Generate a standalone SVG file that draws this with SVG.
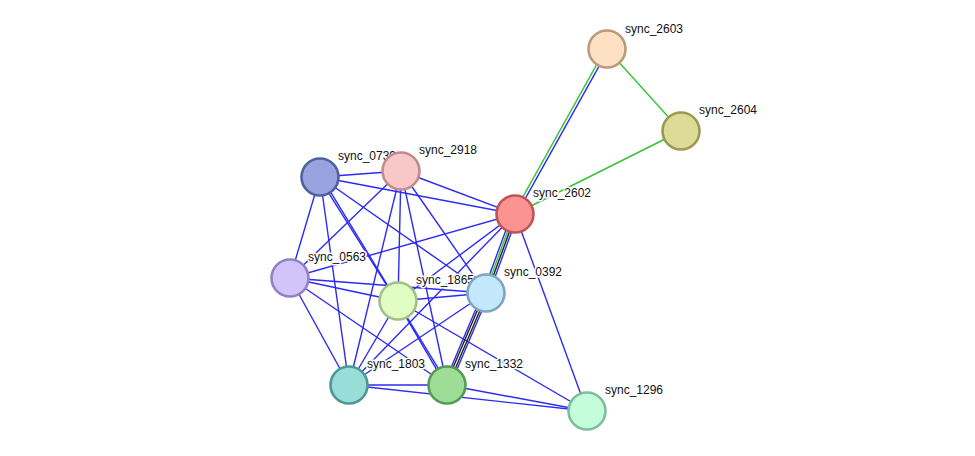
<svg xmlns="http://www.w3.org/2000/svg" width="975" height="456" viewBox="0 0 975 456">
<style>
.e{stroke:#2b2bf5;stroke-width:1.4;fill:none}
.g{stroke:#35c435;stroke-width:1.4;fill:none}
.k{stroke:#222;stroke-width:1.4;fill:none}
.n circle{stroke-width:2.6}
.n text{font-family:"Liberation Sans",Arial,sans-serif;font-size:12px;fill:#111;stroke:#fff;stroke-width:3;stroke-linejoin:round;paint-order:stroke}
</style>
<rect width="975" height="456" fill="#fff"/>
<g id="connectors">
<line class="e" x1="320" y1="177" x2="401" y2="171"/>
<line class="e" x1="320" y1="177" x2="515" y2="214"/>
<line class="e" x1="320" y1="177" x2="290" y2="278"/>
<line class="e" x1="319" y1="177.6" x2="397" y2="301.6"/>
<line class="e" x1="321" y1="176.4" x2="448" y2="384.4"/>
<line class="e" x1="320" y1="177" x2="486" y2="293"/>
<line class="e" x1="320" y1="177" x2="349" y2="385"/>
<line class="e" x1="401" y1="171" x2="515" y2="214"/>
<line class="e" x1="401" y1="171" x2="290" y2="278"/>
<line class="e" x1="401" y1="171" x2="398" y2="301"/>
<line class="e" x1="401" y1="171" x2="349" y2="385"/>
<line class="e" x1="401" y1="171" x2="447" y2="385"/>
<line class="e" x1="401" y1="171" x2="486" y2="293"/>
<line class="e" x1="515" y1="214" x2="290" y2="278"/>
<line class="e" x1="515" y1="214" x2="398" y2="301"/>
<line class="e" x1="515" y1="214" x2="349" y2="385"/>
<line class="e" x1="515" y1="214" x2="587" y2="411"/>
<line class="e" x1="290" y1="278" x2="398" y2="301"/>
<line class="e" x1="290" y1="278" x2="486" y2="293"/>
<line class="e" x1="290" y1="278" x2="349" y2="385"/>
<line class="e" x1="290" y1="278" x2="447" y2="385"/>
<line class="e" x1="398" y1="301" x2="486" y2="293"/>
<line class="e" x1="398" y1="301" x2="349" y2="385"/>
<line class="e" x1="397" y1="301.6" x2="446" y2="385.6"/>
<line class="e" x1="398" y1="301" x2="587" y2="411"/>
<line class="e" x1="486" y1="293" x2="349" y2="385"/>
<line class="e" x1="349" y1="385" x2="447" y2="385"/>
<line class="e" x1="349" y1="385" x2="587" y2="411"/>
<line class="e" x1="447" y1="385" x2="587" y2="411"/>
<line class="g" x1="605.7" y1="48.3" x2="513.7" y2="213.3"/>
<line class="e" x1="608.3" y1="49.7" x2="516.3" y2="214.7"/>
<line class="g" x1="607" y1="49" x2="681" y2="131"/>
<line class="g" x1="515" y1="214" x2="681" y2="131"/>
<line class="e" x1="512.2" y1="213" x2="483.2" y2="292"/>
<line class="g" x1="514.1" y1="213.7" x2="485.1" y2="292.7"/>
<line class="k" x1="515.9" y1="214.3" x2="486.9" y2="293.3"/>
<line class="e" x1="517.8" y1="215" x2="488.8" y2="294"/>
<line class="e" x1="483.2" y1="291.8" x2="444.2" y2="383.8"/>
<line class="k" x1="484.9" y1="292.5" x2="445.9" y2="384.5"/>
<line class="k" x1="487.1" y1="293.5" x2="448.1" y2="385.5"/>
<line class="e" x1="488.8" y1="294.2" x2="449.8" y2="386.2"/>
</g>
<g id="sync_2603" class="n"><circle cx="607" cy="49" r="18.5" fill="#fee0c3" stroke="#b99a7c"/><text x="625" y="33">sync_2603</text></g>
<g id="sync_2604" class="n"><circle cx="681" cy="131" r="18.5" fill="#dedb98" stroke="#9c9a52"/><text x="699" y="114">sync_2604</text></g>
<g id="sync_0739" class="n"><text x="338" y="160">sync_0739</text><circle cx="320" cy="177" r="18.5" fill="#98a3e0" stroke="#52609f"/></g>
<g id="sync_2918" class="n"><circle cx="401" cy="171" r="18.5" fill="#f8c8c8" stroke="#c08c8c"/><text x="419" y="154">sync_2918</text></g>
<g id="sync_2602" class="n"><circle cx="515" cy="214" r="18.5" fill="#fc9393" stroke="#c05353"/><text x="533" y="197">sync_2602</text></g>
<g id="sync_0563" class="n"><circle cx="290" cy="278" r="18.5" fill="#d3c3fb" stroke="#9382c2"/><text x="308" y="261">sync_0563</text></g>
<g id="sync_1865" class="n"><circle cx="398" cy="301" r="18.5" fill="#e1fdc4" stroke="#a1c183"/><text x="416" y="284">sync_1865</text></g>
<g id="sync_0392" class="n"><circle cx="486" cy="293" r="18.5" fill="#c3e7fc" stroke="#7fa6bd"/><text x="504" y="276">sync_0392</text></g>
<g id="sync_1803" class="n"><circle cx="349" cy="385" r="18.5" fill="#98ddd7" stroke="#4f9892"/><text x="367" y="368">sync_1803</text></g>
<g id="sync_1332" class="n"><circle cx="447" cy="385" r="18.5" fill="#9edd95" stroke="#589a58"/><text x="465" y="368">sync_1332</text></g>
<g id="sync_1296" class="n"><circle cx="587" cy="411" r="18.5" fill="#c3fdd9" stroke="#7dbe9c"/><text x="605" y="394">sync_1296</text></g>
</svg>
